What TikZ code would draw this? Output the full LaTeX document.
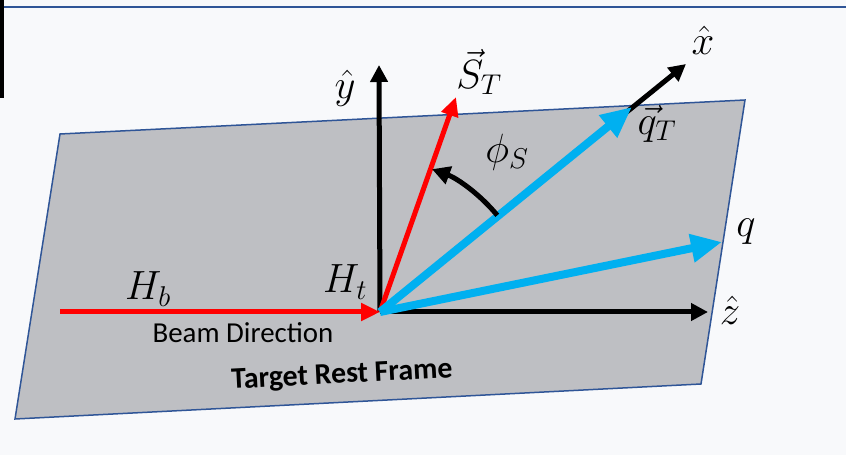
\RequirePackage{fix-cm}
\documentclass[tikz,border=0pt]{standalone}
\usepackage{fontspec}
\setmainfont{Carlito}
\usepackage{tikz}
\usetikzlibrary{arrows.meta,calc}
\definecolor{pagebg}{HTML}{F8F9FB}
\definecolor{frameblue}{HTML}{2F5597}
\definecolor{planegray}{HTML}{BEBFC3}
\definecolor{vecred}{HTML}{FF0000}
\definecolor{vecblue}{HTML}{00B0F0}
\tikzset{
  plane/.style={
    fill=planegray,
    draw=frameblue,
    line width=1.5bp
  },
  axisarrow/.style={
    -{Triangle[length=17bp,width=17bp]},
    line width=5bp,
    draw=black
  },
  redarrow/.style={
    -{Triangle[length=19bp,width=17bp]},
    line width=5bp,
    draw=vecred
  },
  bluearrow/.style={
    -{Triangle[length=31bp,width=27bp]},
    line width=8bp,
    draw=vecblue
  },
  anglearrow/.style={
    -{Triangle[length=18bp,width=18bp]},
    line width=5bp,
    draw=black
  },
  mathlabel/.style={
    font=\fontsize{41}{48}\selectfont,
    inner sep=0pt
  },
  textlabel/.style={
    font=\fontsize{29}{34}\selectfont,
    inner sep=0pt
  }
}

\begin{document}
\begin{tikzpicture}[x=1bp,y=-1bp]
\fill[pagebg] (0,0) rectangle (846,455);
\useasboundingbox (0,0) rectangle (846,455);
\draw[frameblue, line width=2.5bp] (3,7) -- (846,7);
\fill[black] (0,0) rectangle (4,98);
% target plane
\draw[plane] (60,134) -- (745,100) -- (701,384) -- (15,419) -- cycle;
% vertices of the vectors
\coordinate (O) at (380,312);
\coordinate (beamtail) at (60,312);
\coordinate (ytip) at (379,65);
\coordinate (ztip) at (708,312);
\coordinate (xtip) at (686,64);
\coordinate (qTtip) at (632,107);
\coordinate (qtip) at (722,242);
\coordinate (STtip) at (456,97);
\coordinate (phistart) at ($(O)+(-39.5:152)$);
% axes
\draw[axisarrow] (O) -- (xtip);
\draw[axisarrow] (O) -- (ytip);
\draw[axisarrow] (O) -- (ztip);
% vectors
\draw[redarrow] (beamtail) -- (O);
\draw[redarrow] (O) -- (STtip);
\draw[bluearrow] (O) -- (qTtip);
\draw[bluearrow] (O) -- (qtip);
\draw[anglearrow] (phistart) arc[start angle=-39.5, end angle=-70, radius=152];
% labels
\node[mathlabel] (ylab) at (345,88) {$\hat{y}$};
\node[mathlabel] (xlab) at (703,40) {$\hat{x}$};
\node[mathlabel] (zlab) at (730,310) {$\hat{z}$};
\node[mathlabel] (STlab) at (479,72) {$\vec{S}_T$};
\node[mathlabel] (qTlab) at (657,124) {$\vec{q}_T$};
\node[mathlabel] (qlab) at (746,232) {$q$};
\node[mathlabel] (philab) at (507,152) {$\phi_S$};
\node[mathlabel] (Hblab) at (148,289) {$H_b$};
\node[mathlabel] (Htlab) at (345,282) {$H_t$};
\node[textlabel] (beamlab) at (243,333) {Beam Direction};
\node[textlabel, font=\fontsize{30}{35}\selectfont\bfseries, rotate=3] (framelab) at (342,376) {Target Rest Frame};
\end{tikzpicture}
\end{document}
